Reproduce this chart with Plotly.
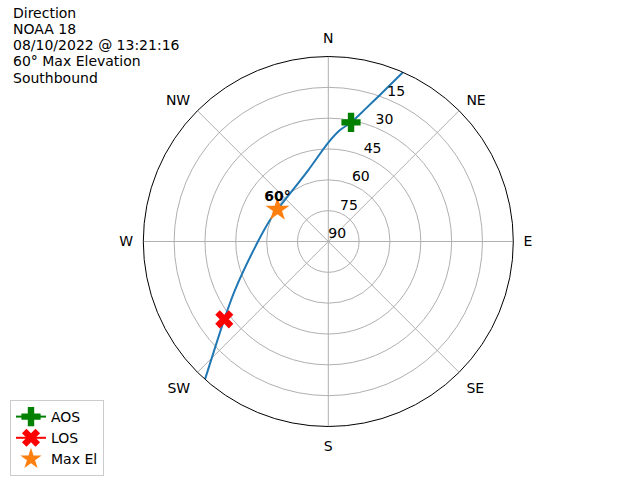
import plotly.graph_objects as go

# ---- data ----
title_lines = ["Direction", "NOAA 18", "08/10/2022 @ 13:21:16", "60° Max Elevation", "Southbound"]
track_az = [23.8, 19.4, 15.5, 10.8, 6.0, 0.0, 344.4, 302.2, 290.2, 269.4, 242.5, 233.2, 221.8]
track_el = [0.0, 14.4, 23.3, 31.0, 35.5, 41.9, 53.9, 60.8, 59.8, 55.6, 38.8, 26.8, 0.0]
aos_az, aos_el = [10.8], [31.0]
los_az, los_el = [233.2], [26.8]
max_az, max_el = [302.2], [60.8]
max_label = "60°"
dir_vals = [0, 45, 90, 135, 180, 225, 270, 315]
dir_text = ["N", "NE", "E", "SE", "S", "SW", "W", "NW"]
el_ticks = [90, 75, 60, 45, 30, 15]

FONT = "DejaVu Sans"
GRID = "#b0b0b0"

def zen(els):
    return [90 - e for e in els]

fig = go.Figure()
fig.add_trace(go.Scatterpolar(r=zen(track_el), theta=track_az, mode="lines",
                              line=dict(color="#1f77b4", width=2, shape="spline", smoothing=0.8),
                              showlegend=False, hoverinfo="skip"))
fig.add_trace(go.Scatterpolar(r=zen(aos_el), theta=aos_az, mode="lines+markers", name="AOS",
                              line=dict(color="green", width=2),
                              marker=dict(symbol="cross", size=16, color="green")))
fig.add_trace(go.Scatterpolar(r=zen(los_el), theta=los_az, mode="lines+markers", name="LOS",
                              line=dict(color="red", width=2),
                              marker=dict(symbol="x", size=16, color="red")))
fig.add_trace(go.Scatterpolar(r=zen(max_el), theta=max_az, mode="markers", name="Max El",
                              marker=dict(symbol="star", size=18, color="#ff7f0e")))
fig.add_trace(go.Scatterpolar(r=zen(max_el), theta=max_az, mode="markers+text", text=[max_label],
                              textposition="top center",
                              marker=dict(size=6, color="rgba(0,0,0,0)"),
                              textfont=dict(family=FONT, size=14, color="black", weight="bold"),
                              showlegend=False, hoverinfo="skip"))
# radial tick labels
fig.add_trace(go.Scatterpolar(r=zen(el_ticks), theta=[22.5] * len(el_ticks), mode="text",
                              text=[str(t) for t in el_ticks], textposition="top right",
                              textfont=dict(family=FONT, size=14, color="black"),
                              showlegend=False, hoverinfo="skip", cliponaxis=False))

for i, line in enumerate(title_lines):
    fig.add_annotation(text=line, xref="paper", yref="paper", x=11 / 640,
                       y=1 - (12.8 + 16.2 * i) / 480, xanchor="left", yanchor="middle",
                       showarrow=False, font=dict(family=FONT, size=14, color="black"))

fig.update_layout(
    width=640, height=480, margin=dict(l=0, r=0, t=0, b=0),
    paper_bgcolor="white", plot_bgcolor="white",
    font=dict(family=FONT, size=14, color="black"),
    polar=dict(
        domain=dict(x=[143.3 / 640, 513.3 / 640], y=[1 - 426.5 / 480, 1 - 56.5 / 480]),
        bgcolor="white",
        angularaxis=dict(rotation=90, direction="clockwise", tickmode="array",
                         tickvals=dir_vals, ticktext=dir_text, showline=True,
                         linecolor="black", linewidth=1, gridcolor=GRID, gridwidth=1,
                         ticks="outside", ticklen=7, tickcolor="rgba(0,0,0,0)",
                         tickfont=dict(family=FONT, size=14, color="black")),
        radialaxis=dict(range=[0, 90], tickmode="array", tickvals=[15, 30, 45, 60, 75],
                        showticklabels=False, showline=False, ticks="",
                        gridcolor=GRID, gridwidth=1),
    ),
    legend=dict(x=10 / 640, y=4 / 480, xanchor="left", yanchor="bottom",
                bordercolor="#cccccc", borderwidth=1, bgcolor="white",
                font=dict(family=FONT, size=14, color="black"), tracegroupgap=0),
)

fig.write_html("out.html", config={"displayModeBar": False},
               post_script="document.body.style.margin='0';")
